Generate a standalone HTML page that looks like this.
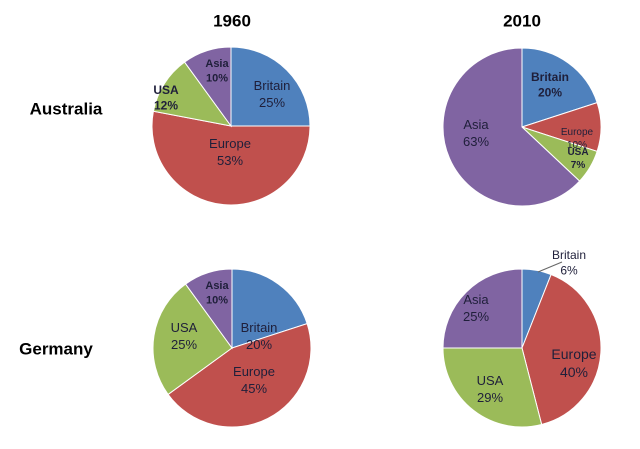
<!DOCTYPE html>
<html><head><meta charset="utf-8"><style>
body{margin:0;background:#fff;}
svg text{font-family:"Liberation Sans",sans-serif;fill:#1f1f3a;text-anchor:middle;dominant-baseline:middle;}
</style></head><body>
<svg id="c" width="640" height="444">
<text x="232" y="22" font-size="17" font-weight="bold" style="fill:#000">1960</text>
<text x="522" y="22" font-size="17" font-weight="bold" style="fill:#000">2010</text>
<text x="66" y="110" font-size="17" font-weight="bold" style="fill:#000">Australia</text>
<text x="56" y="350" font-size="17" font-weight="bold" style="fill:#000">Germany</text>
<g id="pies"></g>
<g id="labels"></g>
</svg>
<script>
const categories=["Britain","Europe","USA","Asia"];
const colors=["#4f81bd","#c0504d","#9bbb59","#8064a2"];
const australia1960=[25,53,12,10];
const australia2010=[20,10,7,63];
const germany1960=[20,45,25,10];
const germany2010=[6,40,29,25];
const pies=[
 {name:"australia-1960",vals:australia1960,cx:231,cy:126,r:79},
 {name:"australia-2010",vals:australia2010,cx:522,cy:127,r:79},
 {name:"germany-1960",vals:germany1960,cx:232,cy:348,r:79},
 {name:"germany-2010",vals:germany2010,cx:522,cy:348,r:79}
];
// labels: [pieIndex, catIndex, x, y, size, bold]
const labels=[
 [0,3,217,64,11,1],[0,2,166,91,12,1],[0,0,272,87,13,0],[0,1,230,145,13,0],
 [1,0,550,78,12,1],[1,1,577,132,10,0],[1,2,578,152,10,1],[1,3,476,126,13,0],
 [2,3,217,286,11,1],[2,0,259,329,13,0],[2,2,184,329,13,0],[2,1,254,373,13,0],
 [3,0,569,256,12,0],[3,3,476,301,13,0],[3,1,574,355,14,0],[3,2,490,382,13,0]
];
const NS="http://www.w3.org/2000/svg";
const g=document.getElementById('pies'),lg=document.getElementById('labels');
function pt(cx,cy,r,f){const a=f*2*Math.PI;return [cx+r*Math.sin(a),cy-r*Math.cos(a)];}
pies.forEach(p=>{
 const tot=p.vals.reduce((a,b)=>a+b,0);let acc=0;
 p.vals.forEach((v,i)=>{
  const f0=acc/tot,f1=(acc+v)/tot;acc+=v;
  const [x0,y0]=pt(p.cx,p.cy,p.r,f0),[x1,y1]=pt(p.cx,p.cy,p.r,f1);
  const path=document.createElementNS(NS,'path');
  path.setAttribute('d',`M${p.cx},${p.cy}L${x0},${y0}A${p.r},${p.r} 0 ${(f1-f0)>0.5?1:0} 1 ${x1},${y1}Z`);
  path.setAttribute('fill',colors[i]);path.setAttribute('stroke','#fff');path.setAttribute('stroke-width','1');
  
  
  g.appendChild(path);
 });
});
labels.forEach(l=>{
 const p=pies[l[0]];const v=p.vals[l[1]];
 const t=document.createElementNS(NS,'text');
 t.setAttribute('x',l[2]);t.setAttribute('y',l[3]);t.setAttribute('font-size',l[4]);
 if(l[5])t.setAttribute('font-weight','bold');
 
 
 const a=document.createElementNS(NS,'tspan');a.setAttribute('x',l[2]);a.textContent=categories[l[1]];
 const b=document.createElementNS(NS,'tspan');b.setAttribute('x',l[2]);b.setAttribute('dy',l[4]*1.3);b.textContent=v+'%';
 t.appendChild(a);t.appendChild(b);lg.appendChild(t);
});
const ln=document.createElementNS(NS,'line');
ln.setAttribute('x1',538);ln.setAttribute('y1',272);ln.setAttribute('x2',562);ln.setAttribute('y2',262);
ln.setAttribute('stroke','#666');ln.setAttribute('stroke-width','1');


lg.appendChild(ln);
</script>
</body></html>
